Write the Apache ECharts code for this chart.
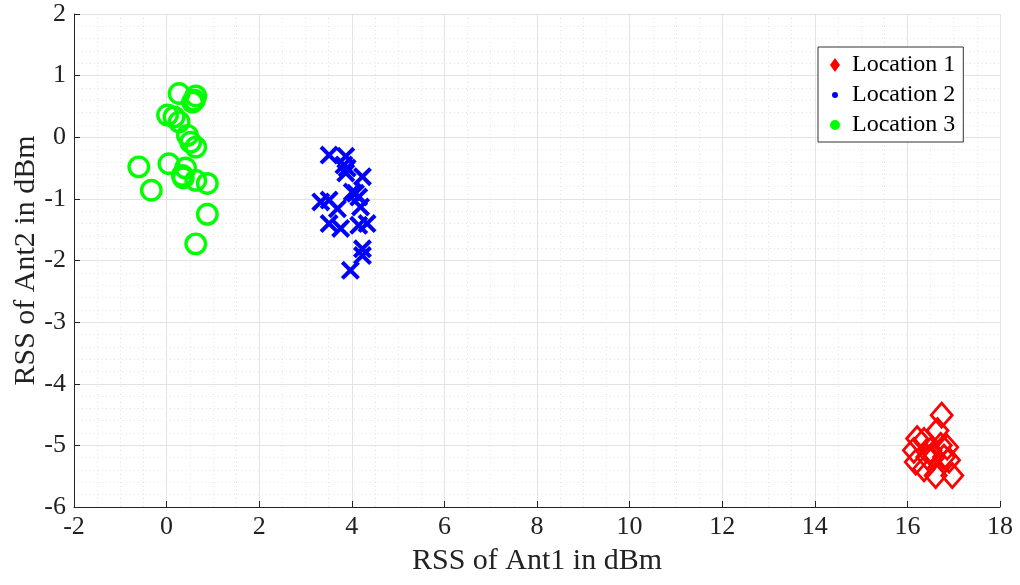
<!DOCTYPE html>
<html>
<head>
<meta charset="utf-8">
<script src="https://cdn.jsdelivr.net/npm/echarts@6/dist/echarts.min.js"></script>
<style>
html,body{margin:0;padding:0;background:#fff;}
#chart{width:1020px;height:585px;}
</style>
</head>
<body>
<div id="chart"></div>
<script>
// ---- data ----
const seriesNames = ['Location 1', 'Location 2', 'Location 3'];

const loc1X = [16.74, 16.21, 16.14, 16.18, 16.36, 16.61, 16.97, 16.72, 16.86, 16.50, 16.57, 16.79, 16.36, 16.65, 16.90, 16.43];
const loc1Y = [-4.51, -4.89, -5.08, -5.27, -5.38, -5.49, -5.49, -5.00, -5.03, -5.08, -5.19, -5.19, -4.92, -4.76, -5.24, -5.19];

const loc2X = [3.51, 3.87, 3.83, 3.90, 3.87, 4.23, 3.33, 3.51, 3.69, 4.08, 4.15, 4.19, 3.51, 3.76, 4.15, 4.33, 4.23, 4.23, 3.97, 4.01];
const loc2Y = [-0.29, -0.31, -0.45, -0.50, -0.58, -0.64, -1.05, -1.02, -1.16, -0.91, -0.97, -1.13, -1.40, -1.48, -1.43, -1.40, -1.81, -1.92, -2.16, -0.89];

const loc3X = [0.27, 0.63, 0.56, 0.02, 0.16, 0.27, 0.45, 0.52, 0.63, -0.60, -0.33, 0.05, 0.34, 0.41, 0.63, 0.88, 0.88, 0.63, 0.60, 0.36];
const loc3Y = [0.71, 0.67, 0.57, 0.36, 0.33, 0.25, 0.03, -0.08, -0.16, -0.48, -0.86, -0.43, -0.62, -0.50, -0.70, -0.75, -1.25, -1.73, 0.60, -0.66];

const xMin = -2, xMax = 18, xStep = 2;
const yMin = -6, yMax = 2, yStep = 1;
const xName = 'RSS of Ant1 in dBm';
const yName = 'RSS of Ant2 in dBm';

function zip(xs, ys) { return xs.map((x, i) => [x, ys[i]]); }

const FONT = '"Liberation Serif", "Times New Roman", serif';
const crossPath = 'path://M0,1.5L1.5,0L5,3.5L8.5,0L10,1.5L6.5,5L10,8.5L8.5,10L5,6.5L1.5,10L0,8.5L3.5,5Z';

const chart = echarts.init(document.getElementById('chart'), null, {renderer: 'canvas'});
chart.setOption({
  animation: false,
  backgroundColor: '#ffffff',
  grid: {left: 74, right: 20, top: 14, bottom: 78, containLabel: false, outerBoundsMode: 'none'},
  legend: {
    orient: 'vertical',
    left: 818, top: 47,
    padding: [6, 8, 5, 10],
    itemGap: 6,
    itemWidth: 14, itemHeight: 14,
    backgroundColor: '#ffffff',
    borderColor: '#333333', borderWidth: 1,
    borderRadius: 0,
    textStyle: {fontFamily: FONT, fontSize: 24, color: '#000', lineHeight: 23, padding: [0, 0, 0, 5]},
    data: [
      {name: seriesNames[0], icon: 'path://M5,0L10,7L5,14L0,7Z', itemStyle: {color: '#ff0000', borderWidth: 0}},
      {name: seriesNames[1], icon: 'path://M0,0M14,14M4,7A3,3,0,1,0,10,7A3,3,0,1,0,4,7Z', itemStyle: {color: '#0000ff', borderWidth: 0}},
      {name: seriesNames[2], icon: 'path://M0,0M14,14M2,7A5,5,0,1,0,12,7A5,5,0,1,0,2,7Z', itemStyle: {color: '#00ff00', borderWidth: 0}}
    ]
  },
  xAxis: {
    type: 'value', min: xMin, max: xMax, interval: xStep,
    name: xName, nameLocation: 'middle', nameGap: 39, nameMoveOverlap: false,
    nameTextStyle: {fontFamily: FONT, fontSize: 30, color: '#222'},
    axisLine: {show: true, onZero: false, lineStyle: {color: '#222', width: 1}},
    axisTick: {show: true, inside: true, length: 6, lineStyle: {color: '#222'}},
    axisLabel: {fontFamily: FONT, fontSize: 26, color: '#222', margin: 7},
    splitLine: {show: true, lineStyle: {color: '#e3e3e3', width: 1}},
    minorTick: {show: false, splitNumber: 4},
    minorSplitLine: {show: true, lineStyle: {color: '#e6e6e6', type: [1, 3], width: 1}}
  },
  yAxis: {
    type: 'value', min: yMin, max: yMax, interval: yStep,
    name: yName, nameLocation: 'middle', nameGap: 33, nameMoveOverlap: false,
    nameTextStyle: {fontFamily: FONT, fontSize: 30, color: '#222'},
    axisLine: {show: true, onZero: false, lineStyle: {color: '#222', width: 1}},
    axisTick: {show: true, inside: true, length: 6, lineStyle: {color: '#222'}},
    axisLabel: {fontFamily: FONT, fontSize: 26, color: '#222', margin: 8},
    splitLine: {show: true, lineStyle: {color: '#e3e3e3', width: 1}},
    minorTick: {show: false, splitNumber: 5},
    minorSplitLine: {show: true, lineStyle: {color: '#e6e6e6', type: [1, 3], width: 1}}
  },
  series: [
    {
      name: seriesNames[0], type: 'scatter', data: zip(loc1X, loc1Y),
      symbol: 'diamond', symbolSize: [21, 24],
      itemStyle: {color: 'rgba(0,0,0,0)', borderColor: '#ff0000', borderWidth: 2.8, opacity: 1}
    },
    {
      name: seriesNames[1], type: 'scatter', data: zip(loc2X, loc2Y),
      symbol: crossPath, symbolSize: 19,
      itemStyle: {color: '#0000ff', opacity: 1}
    },
    {
      name: seriesNames[2], type: 'scatter', data: zip(loc3X, loc3Y),
      symbol: 'circle', symbolSize: 19.5,
      itemStyle: {color: 'rgba(0,0,0,0)', borderColor: '#00ff00', borderWidth: 3.4, opacity: 1}
    }
  ]
});
</script>
</body>
</html>
